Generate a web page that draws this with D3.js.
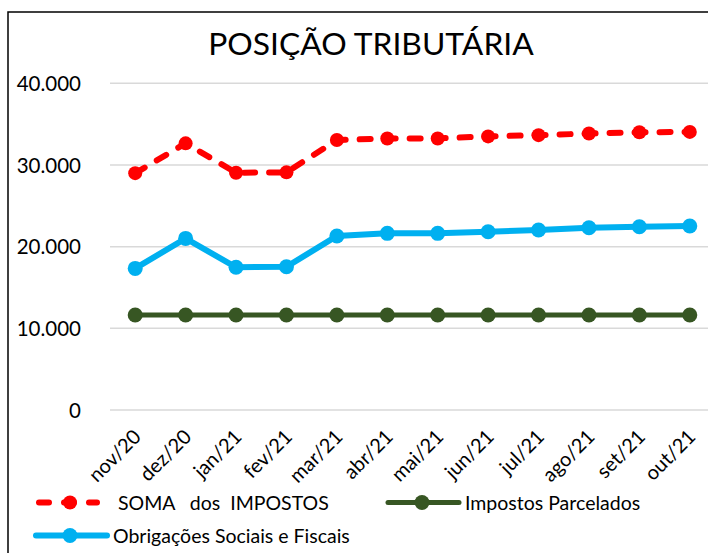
<!DOCTYPE html>
<html>
<head>
<meta charset="utf-8">
<script src="https://cdn.jsdelivr.net/npm/d3@7"></script>
<style>
  body { margin: 0; background: #fff; }
  text { font-family: Lato, "Open Sans", sans-serif; fill: #000; }
</style>
</head>
<body>
<div id="chart"></div>
<script>
var months = ["nov/20", "dez/20", "jan/21", "fev/21", "mar/21", "abr/21", "mai/21", "jun/21", "jul/21", "ago/21", "set/21", "out/21"];
var somaImpostos = [29000, 32650, 29050, 29100, 33050, 33250, 33250, 33500, 33650, 33850, 34000, 34050];
var obrigacoes = [17340, 21010, 17470, 17540, 21300, 21630, 21630, 21820, 22030, 22310, 22440, 22520];
var parcelados = [11630, 11630, 11630, 11630, 11630, 11630, 11630, 11630, 11630, 11630, 11630, 11630];
var yTicks = [0, 10000, 20000, 30000, 40000];

var width = 708, height = 553;

var svg = d3.select("#chart").append("svg")
    .attr("width", width)
    .attr("height", height);

svg.append("rect").attr("width", width).attr("height", height).attr("fill", "#fff");

// chart border (only top/left visible in the crop)
svg.append("rect")
    .attr("x", 8).attr("y", 12)
    .attr("width", 760).attr("height", 600)
    .attr("fill", "none")
    .attr("stroke", "#000")
    .attr("stroke-width", 1.5);

var x = d3.scaleBand().domain(months).range([110, 715]).padding(0);
var y = d3.scaleLinear().domain([0, 40000]).range([410, 83.3]);

var locale = d3.formatLocale({decimal: ",", thousands: ".", grouping: [3], currency: ["R$", ""]});
var fmt = locale.format(",.0f");

function cx(d, i) { return x(months[i]) + x.bandwidth() / 2; }

// gridlines
svg.append("g").selectAll("line")
    .data(yTicks)
    .enter().append("line")
    .attr("x1", 110).attr("x2", 715)
    .attr("y1", function(d) { return y(d); })
    .attr("y2", function(d) { return y(d); })
    .attr("stroke", "#d9d9d9")
    .attr("stroke-width", 1.5);

// y axis labels
var yAxis = svg.append("g")
    .attr("transform", "translate(81,0)")
    .call(d3.axisLeft(y).tickValues(yTicks).tickFormat(fmt).tickSize(0).tickPadding(0));
yAxis.select(".domain").remove();
yAxis.selectAll("text")
    .style("font-family", "Lato")
    .style("font-size", "20.5px")
    .attr("dy", "0.35em");

// x axis labels
var xAxis = svg.append("g")
    .attr("transform", "translate(0,410)")
    .call(d3.axisBottom(x).tickSize(0).tickPadding(0));
xAxis.select(".domain").remove();
xAxis.selectAll("text")
    .style("font-family", "Lato")
    .style("font-size", "20px")
    .attr("text-anchor", "end")
    .attr("dy", 0)
    .attr("y", 0)
    .attr("transform", "translate(7,28) rotate(-45)");

// title
svg.append("text")
    .attr("x", 371)
    .attr("y", 55)
    .attr("text-anchor", "middle")
    .style("font-size", "31.8px")
    .text("POSIÇÃO TRIBUTÁRIA");

var line = d3.line()
    .x(cx)
    .y(function(d) { return y(d); });

var series = [
  {name: "Impostos Parcelados", values: parcelados, color: "#375623", width: 5, dash: null, r: 7.5},
  {name: "Obrigações Sociais e Fiscais", values: obrigacoes, color: "#00b0f0", width: 6, dash: null, r: 7.5},
  {name: "SOMA   dos  IMPOSTOS", values: somaImpostos, color: "#ff0000", width: 6, dash: "11,14", r: 7}
];

series.forEach(function(s) {
  svg.append("path")
      .datum(s.values)
      .attr("d", line)
      .attr("fill", "none")
      .attr("stroke", s.color)
      .attr("stroke-width", s.width)
      .attr("stroke-linecap", s.dash ? "round" : "butt")
      .attr("stroke-dasharray", s.dash);
  svg.append("g").selectAll("circle")
      .data(s.values)
      .enter().append("circle")
      .attr("cx", cx)
      .attr("cy", function(d) { return y(d); })
      .attr("r", s.r)
      .attr("fill", s.color);
});

// legend
var legendItems = [
  {s: series[2], x: 36, y: 502.5, len: 64},
  {s: series[0], x: 388, y: 502.5, len: 71},
  {s: series[1], x: 36, y: 535.5, len: 71}
];
var legend = svg.append("g");
legendItems.forEach(function(it) {
  var s = it.s;
  legend.append("line")
      .attr("x1", it.x + (s.dash ? 3 : 0)).attr("x2", it.x + it.len - (s.dash ? 3 : 0))
      .attr("y1", it.y).attr("y2", it.y)
      .attr("stroke", s.color)
      .attr("stroke-width", s.width)
      .attr("stroke-linecap", "round")
      .attr("stroke-dasharray", s.dash ? "10,15" : null);
  legend.append("circle")
      .attr("cx", it.x + 34).attr("cy", it.y)
      .attr("r", s.r)
      .attr("fill", s.color);
  legend.append("text")
      .attr("x", s.dash ? 118 : (it.x + it.len + 6))
      .attr("y", it.y + 7)
      .style("font-size", "19.5px")
      .style("white-space", "pre")
      .text(s.name);
});
</script>
</body>
</html>
